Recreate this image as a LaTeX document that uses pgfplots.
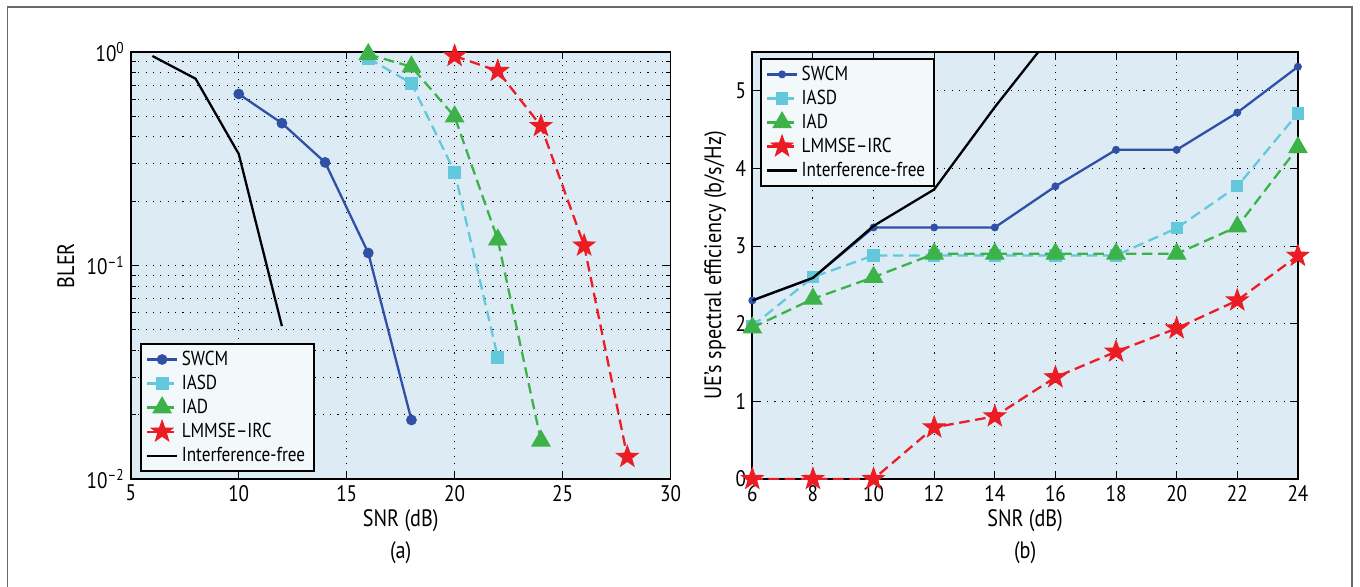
\documentclass[border=0pt]{standalone}
\usepackage{fontspec}
\setmainfont{PT Sans}[FakeStretch=0.85]
\usepackage{pgfplots}
\pgfplotsset{compat=1.18}

\definecolor{bgblue}{RGB}{221,235,245}
\definecolor{legfill}{RGB}{243,248,251}
\definecolor{swcm}{RGB}{48,80,165}
\definecolor{iasd}{RGB}{100,200,220}
\definecolor{iad}{RGB}{60,178,72}
\definecolor{lmmse}{RGB}{236,28,36}
\definecolor{framegray}{RGB}{105,105,105}

% filled five-point star, like MATLAB's pentagram
\pgfdeclareplotmark{fstar}{%
  \pgfpathmoveto{\pgfpointpolar{90}{\pgfplotmarksize}}%
  \pgfpathlineto{\pgfpointpolar{126}{0.40\pgfplotmarksize}}%
  \pgfpathlineto{\pgfpointpolar{162}{\pgfplotmarksize}}%
  \pgfpathlineto{\pgfpointpolar{198}{0.40\pgfplotmarksize}}%
  \pgfpathlineto{\pgfpointpolar{234}{\pgfplotmarksize}}%
  \pgfpathlineto{\pgfpointpolar{270}{0.40\pgfplotmarksize}}%
  \pgfpathlineto{\pgfpointpolar{306}{\pgfplotmarksize}}%
  \pgfpathlineto{\pgfpointpolar{342}{0.40\pgfplotmarksize}}%
  \pgfpathlineto{\pgfpointpolar{18}{\pgfplotmarksize}}%
  \pgfpathlineto{\pgfpointpolar{54}{0.40\pgfplotmarksize}}%
  \pgfpathclose
  \pgfusepathqfillstroke
}

\newcommand{\fs}{\fontsize{11.5}{13}\selectfont}
\newcommand{\fl}{\fontsize{13.5}{15}\selectfont}
\newcommand{\ft}{\fontsize{12.8}{14}\selectfont}

\pgfplotsset{
  matlab/.style={
    scale only axis, height=8.54cm, clip mode=individual,
    axis background/.style={fill=bgblue},
    axis line style={line width=1.1pt},
    tick style={black, line width=0.6pt},
    major grid style={black, dash pattern=on 0.6pt off 3.6pt, line width=0.6pt},
    minor grid style={black, dash pattern=on 0.6pt off 3.6pt, line width=0.6pt},
    font=\fl, tick label style={font=\ft}, label style={font=\fl},
    /pgf/number format/assume math mode=true,
    legend style={draw=black, line width=1pt, fill=legfill, font=\fs,
      inner xsep=3pt, inner ysep=2pt},
    legend cell align=left,
  },
  swcm/.style={color=swcm, line width=1.3pt, solid, mark=*, mark options={solid, line width=0.5pt}},
  iasd/.style={color=iasd, line width=1.3pt, dash pattern=on 6pt off 3.2pt, mark=square*, mark size=3.4pt, mark options={solid, line width=0.5pt}},
  iad/.style={color=iad, line width=1.3pt, dash pattern=on 6pt off 3.2pt, mark=triangle*, mark size=6pt, mark options={solid, line width=0.5pt}},
  lmmse/.style={color=lmmse, line width=1.3pt, dash pattern=on 6pt off 3.2pt, mark=fstar, mark size=6.5pt, mark options={solid, line width=0.5pt}},
  ifree/.style={color=black, line width=1.3pt, solid, no marks},
}

\begin{document}
\begin{tikzpicture}
\useasboundingbox (0,0) rectangle (27.2cm,11.72cm);
\draw[framegray, line width=1.1pt] (0.15cm,-0.5cm) -- (0.15cm,11.58cm) -- (27.04cm,11.58cm) -- (27.04cm,-0.5cm);

% (a) BLER
\begin{axis}[matlab, name=bler,
    at={(2.616cm,2.14cm)}, anchor=south west, width=10.794cm,
    ymode=log, xmin=5, xmax=30, ymin=0.01, ymax=1,
    xtick={5,10,...,30},
    ytick={0.01,0.1,1},
    yticklabels={10\textsuperscript{–2},10\textsuperscript{–1},10\textsuperscript{0}},
    grid=both,
    xlabel={SNR (dB)}, ylabel={BLER},
    xlabel style={at={(axis description cs:0.5,0)}, anchor=center, yshift=-0.84cm},
    ylabel style={at={(axis description cs:0,0.5)}, anchor=center, yshift=1.3cm},
    legend style={at={(axis description cs:0.0167,0.0164)}, anchor=south west},
]
\addplot[swcm, mark size=2.8pt] coordinates {(10,0.636) (12,0.464) (14,0.304) (16,0.1145) (18,0.0189)};
\addlegendentry{SWCM}
\addplot[iasd] coordinates {(16,0.935) (18,0.713) (20,0.274) (22,0.0372)};
\addlegendentry{IASD}
\addplot[iad] coordinates {(16,0.975) (18,0.853) (20,0.498) (22,0.132) (24,0.0151)};
\addlegendentry{IAD}
\addplot[lmmse] coordinates {(20,0.958) (22,0.815) (24,0.45) (26,0.124) (28,0.0127)};
\addlegendentry{LMMSE–IRC}
\addplot[ifree] coordinates {(6,0.958) (8,0.75) (10,0.333) (12,0.052)};
\addlegendentry{Interference-free}
\node[font=\fl] at (rel axis cs:0.5,0) [yshift=-1.48cm] {(a)};
\end{axis}

% (b) spectral efficiency
\begin{axis}[matlab, name=se,
    at={(15.046cm,2.14cm)}, anchor=south west, width=10.912cm,
    xmin=6, xmax=24, ymin=0, ymax=5.5,
    xtick={6,8,...,24}, ytick={0,1,...,5},
    grid=major,
    xlabel={SNR (dB)}, ylabel={UE’s spectral efficiency (b/s/Hz)},
    xlabel style={at={(axis description cs:0.5,0)}, anchor=center, yshift=-0.84cm},
    ylabel style={at={(axis description cs:0,0.5)}, anchor=center, yshift=0.74cm},
    legend style={at={(axis description cs:0.0137,0.986)}, anchor=north west},
]
\addplot[swcm, mark size=2pt] coordinates {(6,2.30) (8,2.59) (10,3.24) (12,3.24) (14,3.24) (16,3.77) (18,4.24) (20,4.24) (22,4.72) (24,5.31)};
\addlegendentry{SWCM}
\addplot[iasd, mark size=3.2pt] coordinates {(6,1.97) (8,2.60) (10,2.88) (12,2.88) (14,2.88) (16,2.88) (18,2.88) (20,3.23) (22,3.77) (24,4.71)};
\addlegendentry{IASD}
\addplot[iad] coordinates {(6,1.95) (8,2.32) (10,2.60) (12,2.90) (14,2.90) (16,2.90) (18,2.90) (20,2.90) (22,3.25) (24,4.27)};
\addlegendentry{IAD}
\addplot[lmmse] coordinates {(6,0) (8,0) (10,0) (12,0.665) (14,0.807) (16,1.31) (18,1.64) (20,1.94) (22,2.30) (24,2.875)};
\addlegendentry{LMMSE–IRC}
\addplot[ifree] coordinates {(6,2.30) (8,2.59) (10,3.26) (12,3.73) (14,4.79) (16,5.78)};
\addlegendentry{Interference-free}
\node[font=\fl] at (rel axis cs:0.5,0) [yshift=-1.48cm] {(b)};
\end{axis}
\end{tikzpicture}
\end{document}
